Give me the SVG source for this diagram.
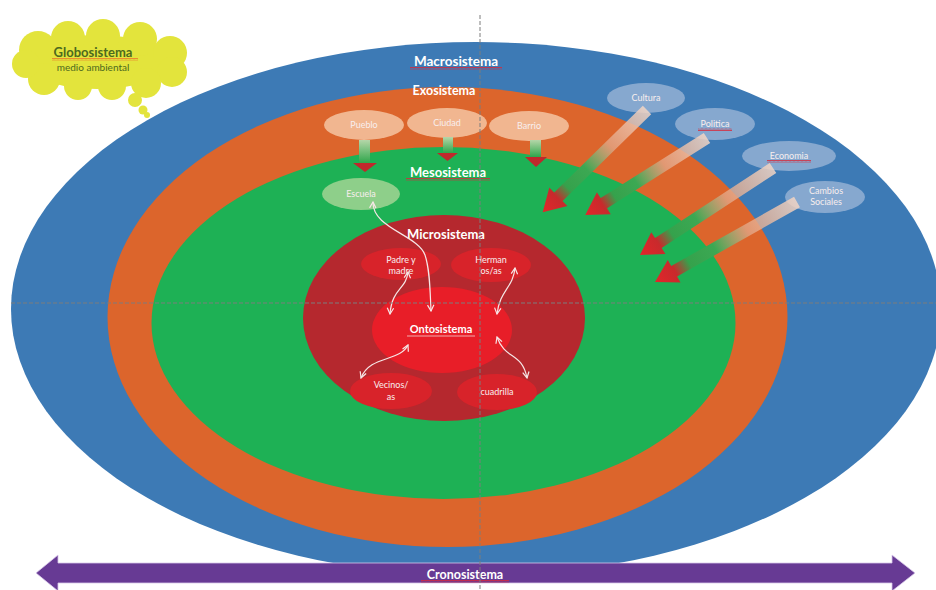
<svg xmlns="http://www.w3.org/2000/svg" width="936" height="590" viewBox="0 0 936 590">
<defs>
<style>
.ttl{font-family:Lato,"Liberation Sans",sans-serif;font-weight:700;fill:#ffffff;text-anchor:middle}
.lbl{font-family:Lato,"Liberation Sans",sans-serif;fill:#F8EEEE;text-anchor:middle;font-size:9px}
.peach{fill:#F1B690}
.sky{fill:#86A8CF}
.sub{fill:#D8232A}
.conn{fill:none;stroke:#F6E6E6;stroke-width:1.2;marker-start:url(#chev);marker-end:url(#chev)}
.dash{stroke:#7C7C7C;stroke-width:1;stroke-dasharray:4 2;fill:none}
.wavy{fill:url(#zig)}
</style>
<marker id="chev" viewBox="0 0 8 8" refX="7" refY="4" markerWidth="8" markerHeight="8" markerUnits="userSpaceOnUse" orient="auto-start-reverse">
<path d="M1,0.8 L7,4 L1,7.2" fill="none" stroke="#F6E6E6" stroke-width="1.2"/>
</marker>
<pattern id="zig" width="4" height="3" patternUnits="userSpaceOnUse">
<path d="M0,2.4 L1,0.6 L2,2.4 L3,0.6 L4,2.4" fill="none" stroke="#D8283A" stroke-width="0.8"/>
</pattern>
<pattern id="zigo" width="4" height="3" patternUnits="userSpaceOnUse">
<path d="M0,2.4 L1,0.6 L2,2.4 L3,0.6 L4,2.4" fill="none" stroke="#E8762A" stroke-width="0.8"/>
</pattern>
<linearGradient id="diag" x1="0" y1="0" x2="1" y2="0">
<stop offset="0" stop-color="#F2D6C6" stop-opacity="0.85"/>
<stop offset="0.35" stop-color="#E3A585" stop-opacity="0.8"/>
<stop offset="0.58" stop-color="#3CA853"/>
<stop offset="0.76" stop-color="#35A24C"/>
<stop offset="0.86" stop-color="#C82A2C"/>
<stop offset="1" stop-color="#E3262A"/>
</linearGradient>
<linearGradient id="down" x1="0" y1="0" x2="0" y2="1">
<stop offset="0" stop-color="#B5D6A8"/>
<stop offset="1" stop-color="#2FA64B"/>
</linearGradient>
</defs>

<g id="macrosistema">
<ellipse cx="476" cy="309" rx="465" ry="267" fill="#3D7AB5"/>
<text class="ttl" x="456" y="66" font-size="13.5" fill="#EEF3FA">Macrosistema</text>
<rect class="wavy" x="410" y="67" width="92" height="3"/>
</g>
<g id="exosistema">
<ellipse cx="447.5" cy="317" rx="340" ry="230" fill="#DC652C"/>
<text class="ttl" x="444" y="95" font-size="12.5">Exosistema</text>
</g>
<g id="mesosistema">
<ellipse cx="443.5" cy="323" rx="292" ry="176" fill="#1EB155"/>
<text class="ttl" x="448" y="177" font-size="13">Mesosistema</text>
<rect class="wavy" x="406" y="178" width="84" height="3"/>
</g>
<g id="microsistema">
<ellipse cx="444" cy="318" rx="141" ry="103" fill="#B5282E"/>
<text class="ttl" x="446" y="239" font-size="13">Microsistema</text>
</g>
<g id="ontosistema">
<ellipse cx="442" cy="330" rx="70" ry="43" fill="#E81E28"/>
<text class="ttl" x="441" y="333" font-size="11" font-weight="600">Ontosistema</text>
<line x1="407" y1="336" x2="475" y2="336" stroke="#F4D0D0" stroke-width="0.8"/>
</g>

<g id="padre">
<ellipse class="sub" cx="401" cy="264" rx="40" ry="16"/>
<text class="lbl" x="401" y="263">Padre y</text>
<text class="lbl" x="401" y="274">madre</text>
</g>
<g id="hermanos">
<ellipse class="sub" cx="491" cy="265" rx="40" ry="17"/>
<text class="lbl" x="491" y="263">Herman</text>
<text class="lbl" x="491" y="274">os/as</text>
</g>
<g id="vecinos">
<ellipse class="sub" cx="391" cy="391" rx="41" ry="18"/>
<text class="lbl" x="391" y="388">Vecinos/</text>
<text class="lbl" x="391" y="400">as</text>
</g>
<g id="cuadrilla">
<ellipse class="sub" cx="497" cy="392" rx="40" ry="18"/>
<text class="lbl" x="497" y="395">cuadrilla</text>
</g>

<g id="escuela">
<ellipse cx="361" cy="194" rx="39" ry="16" fill="#8ECF8A"/>
<text class="lbl" x="361" y="197">Escuela</text>
</g>

<g id="pueblo">
<ellipse class="peach" cx="364" cy="125" rx="40" ry="15"/>
<text class="lbl" x="364" y="128">Pueblo</text>
</g>
<g id="ciudad">
<ellipse class="peach" cx="447" cy="123" rx="40" ry="15"/>
<text class="lbl" x="447" y="126">Ciudad</text>
</g>
<g id="barrio">
<ellipse class="peach" cx="529" cy="126" rx="40" ry="15"/>
<text class="lbl" x="529" y="129">Barrio</text>
</g>

<g id="cultura">
<ellipse class="sky" cx="646" cy="98" rx="39" ry="15"/>
<text class="lbl" x="646" y="101">Cultura</text>
</g>
<g id="politica">
<ellipse class="sky" cx="715" cy="124" rx="40" ry="16"/>
<text class="lbl" x="715" y="127">Politica</text>
<rect class="wavy" x="698" y="128" width="34" height="3"/>
</g>
<g id="economia">
<ellipse class="sky" cx="789" cy="156" rx="47" ry="15"/>
<text class="lbl" x="789" y="159">Economia</text>
<rect class="wavy" x="767" y="160" width="44" height="3"/>
</g>
<g id="cambios">
<ellipse class="sky" cx="825" cy="197" rx="40" ry="16"/>
<text class="lbl" x="826" y="194">Cambios</text>
<text class="lbl" x="826" y="205">Sociales</text>
</g>

<g id="connectors">
<g id="down-arrows">
<rect x="359" y="140" width="11" height="23" fill="url(#down)"/>
<polygon points="353,163 377,163 365,172" fill="#C0282C"/>
<rect x="443" y="137" width="10" height="16" fill="url(#down)"/>
<polygon points="437,153 458,153 447.5,161" fill="#C0282C"/>
<rect x="530" y="140" width="11" height="17" fill="url(#down)"/>
<polygon points="525,157 547,157 536,167" fill="#C0282C"/>
</g>
<g id="diag-arrows">
<g transform="translate(647,110) rotate(135.6)">
<polygon points="0,-6 124,-6 124,-13 146,0 124,13 124,6 0,6" fill="url(#diag)"/>
</g>
<g transform="translate(707,138) rotate(147.7)">
<polygon points="0,-6 122,-6 122,-13 144,0 122,13 122,6 0,6" fill="url(#diag)"/>
</g>
<g transform="translate(773,168) rotate(146.8)">
<polygon points="0,-6 137,-6 137,-13 159,0 137,13 137,6 0,6" fill="url(#diag)"/>
</g>
<g transform="translate(797,202) rotate(150.6)">
<polygon points="0,-6 141,-6 141,-13 163,0 141,13 141,6 0,6" fill="url(#diag)"/>
</g>
</g>
<g id="curves">
<path class="conn" d="M373,202 C372,228 418,235 425,255 C430,270 430,290 431,311"/>
<path class="conn" d="M408,272 C406,290 392,288 390,314"/>
<path class="conn" d="M515,268 C513,288 500,290 497,314"/>
<path class="conn" d="M408,345 C400,362 370,355 361,378"/>
<path class="conn" d="M497,337 C505,360 522,352 527,378"/>
</g>
</g>

<g id="globosistema">
<g fill="#E3E43C">
<ellipse cx="97" cy="62" rx="72" ry="27"/>
<circle cx="38" cy="50" r="19"/>
<circle cx="68" cy="38" r="17"/>
<circle cx="103" cy="36" r="17"/>
<circle cx="140" cy="39" r="17"/>
<circle cx="170" cy="53" r="17"/>
<circle cx="172" cy="72" r="15"/>
<circle cx="146" cy="83" r="15"/>
<circle cx="112" cy="86" r="14"/>
<circle cx="78" cy="86" r="14"/>
<circle cx="44" cy="79" r="16"/>
<circle cx="26" cy="64" r="14"/>
<circle cx="135" cy="100" r="7"/>
<circle cx="143" cy="110" r="4.5"/>
<circle cx="147" cy="115" r="3"/>
</g>
<text x="93" y="57" font-family="Lato,'Liberation Sans',sans-serif" font-size="13" font-weight="700" fill="#4D6A1E" text-anchor="middle">Globosistema</text>
<rect x="52" y="58" width="86" height="3" fill="url(#zigo)"/>
<text x="93" y="71" font-family="Lato,'Liberation Sans',sans-serif" font-size="10" fill="#4D6A1E" text-anchor="middle">medio ambiental</text>
</g>

<g id="cronosistema">
<polygon points="36,573 58,555 58,563 892,563 892,555 915,573 892,591 892,583 58,583 58,591" fill="#673A94" stroke="#D8C8EA" stroke-width="0.8"/>
<text class="ttl" x="465" y="579" font-size="12.5" font-weight="600" fill="#F2ECF8">Cronosistema</text>
<rect class="wavy" x="421" y="580" width="88" height="3"/>
</g>

<g id="guides">
<line class="dash" x1="480" y1="15" x2="480" y2="590"/>
<line class="dash" x1="11" y1="303" x2="936" y2="303"/>
</g>
</svg>
